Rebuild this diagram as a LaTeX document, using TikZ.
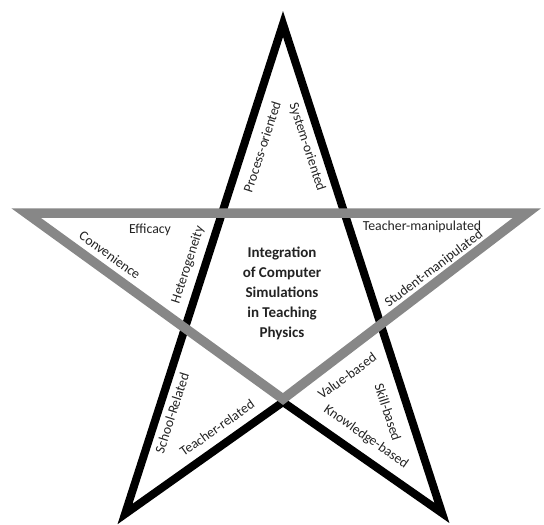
\documentclass[tikz,border=0pt]{standalone}
\usepackage{fontspec}
\setmainfont{Carlito}
\definecolor{greyline}{RGB}{135,135,135}
\definecolor{labtext}{RGB}{35,35,35}
\begin{document}
\begin{tikzpicture}[x=1pt,y=-1pt,
  blk/.style={line width=8pt, draw=black, line join=miter, miter limit=10},
  gry/.style={line width=9.5pt, draw=greyline, line join=miter, miter limit=10},
  lab/.style={font=\fontsize{13.8}{16}\selectfont, text=labtext, inner sep=0pt},
  ctr/.style={font=\fontsize{15}{20}\selectfont\bfseries, align=center, text=labtext, inner sep=0pt}]
\useasboundingbox (0,0) rectangle (544,525);
\coordinate (T) at (283,24);
\coordinate (BL) at (125,514);
\coordinate (BR) at (442,513);
\coordinate (C) at (283,402);
\coordinate (GL) at (26,213);
\coordinate (GR) at (527,213);
\coordinate (GC) at (283,399);
\draw[blk] (T) -- (BR) -- (C) -- (BL) -- cycle;
\draw[gry] (GL) -- (GR) -- (GC) -- cycle;
\node[lab, rotate=72] (proc) at (262,147) {Process-oriented};
\node[lab, rotate=-72] (sys) at (307,147) {System-oriented};
\node[lab] (eff) at (150,230) {Efficacy};
\node[lab, rotate=-36] (conv) at (110,255) {Convenience};
\node[lab, rotate=72] (het) at (188,265) {Heterogeneity};
\node[lab] (tman) at (422,227) {Teacher-manipulated};
\node[lab, rotate=37] (sman) at (434,269) {Student-manipulated};
\node[ctr] (title) at (282,293) {Integration\\of Computer\\Simulations\\in Teaching\\Physics};
\node[lab, rotate=72] (school) at (172,413) {School-Related};
\node[lab, rotate=35] (trel) at (217,428) {Teacher-related};
\node[lab, rotate=36] (val) at (347,376) {Value-based};
\node[lab, rotate=-72] (skill) at (388,412) {Skill-based};
\node[lab, rotate=-35] (know) at (366,437) {Knowledge-based};
\end{tikzpicture}
\end{document}
